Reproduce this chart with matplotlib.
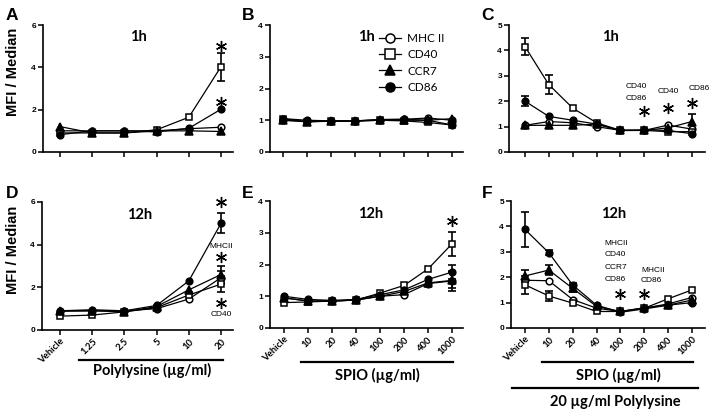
import matplotlib
matplotlib.use("Agg")
import matplotlib.pyplot as plt
from matplotlib.lines import Line2D
import matplotlib.transforms as mtrans
import numpy as np

# ---------------- data ----------------
poly_ticks = ["Vehicle", "1.25", "2.5", "5", "10", "20"]
spio_ticks = ["Vehicle", "10", "20", "40", "100", "200", "400", "1000"]
series = ["MHC II", "CD40", "CCR7", "CD86"]

# Panel A: 1h, polylysine
A_mhc = [1.0, 1.0, 1.0, 1.0, 1.1, 1.17]
A_cd40 = [0.9, 0.9, 0.9, 1.05, 1.64, 4.03]
A_ccr7 = [1.2, 0.9, 0.9, 1.0, 1.0, 0.97]
A_cd86 = [0.82, 1.0, 1.0, 0.95, 1.12, 2.02]
A_cd40_err = [0, 0, 0, 0, 0, 0.66]

# Panel B: 1h, SPIO
B_mhc = [1.0, 0.97, 0.97, 0.98, 1.02, 1.03, 1.07, 1.0]
B_cd40 = [1.05, 0.95, 0.98, 0.98, 1.0, 0.98, 0.93, 0.85]
B_ccr7 = [1.0, 0.95, 0.97, 0.97, 1.0, 1.0, 1.0, 1.05]
B_cd86 = [1.05, 1.0, 0.98, 0.98, 1.02, 1.03, 1.0, 0.85]

# Panel C: 1h, 20 ug/ml polylysine + SPIO
C_mhc = [1.05, 1.2, 1.15, 1.0, 0.85, 0.85, 1.06, 0.9]
C_cd40 = [4.15, 2.65, 1.73, 1.15, 0.85, 0.85, 0.8, 0.8]
C_ccr7 = [1.05, 1.05, 1.05, 1.1, 0.85, 0.85, 0.95, 1.2]
C_cd86 = [2.0, 1.4, 1.25, 1.1, 0.85, 0.87, 0.85, 0.72]
C_cd40_err = [0.35, 0.38, 0, 0, 0, 0, 0, 0]
C_cd86_err = [0.2, 0, 0, 0, 0, 0, 0, 0]
C_ccr7_err = [0, 0, 0, 0, 0, 0, 0, 0.3]

# Panel D: 12h, polylysine
D_mhc = [0.9, 0.95, 0.9, 1.0, 1.45, 2.45]
D_cd40 = [0.65, 0.7, 0.85, 1.05, 1.64, 2.15]
D_ccr7 = [0.88, 0.9, 0.85, 1.1, 1.88, 2.6]
D_cd86 = [0.9, 0.9, 0.9, 1.15, 2.3, 5.0]
D_mhc_err = [0, 0, 0, 0, 0, 0.3]
D_cd40_err = [0, 0, 0, 0, 0, 0.38]
D_ccr7_err = [0, 0, 0, 0, 0, 0.4]
D_cd86_err = [0, 0, 0, 0, 0, 0.47]

# Panel E: 12h, SPIO
E_mhc = [0.95, 0.85, 0.85, 0.88, 1.0, 1.05, 1.4, 1.48]
E_cd40 = [0.8, 0.82, 0.85, 0.88, 1.1, 1.34, 1.86, 2.65]
E_ccr7 = [0.95, 0.85, 0.85, 0.88, 1.0, 1.15, 1.42, 1.5]
E_cd86 = [1.0, 0.9, 0.87, 0.9, 1.05, 1.2, 1.53, 1.76]
E_mhc_err = [0, 0, 0, 0, 0, 0, 0, 0.3]
E_cd40_err = [0, 0, 0, 0, 0, 0, 0, 0.38]
E_ccr7_err = [0, 0, 0, 0, 0, 0, 0, 0.25]
E_cd86_err = [0, 0, 0, 0, 0, 0, 0, 0.22]

# Panel F: 12h, 20 ug/ml polylysine + SPIO
F_mhc = [1.88, 1.86, 1.12, 0.78, 0.65, 0.78, 0.95, 1.2]
F_cd40 = [1.7, 1.26, 0.98, 0.65, 0.65, 0.78, 1.15, 1.5]
F_ccr7 = [2.05, 2.28, 1.56, 0.85, 0.65, 0.8, 0.9, 1.1]
F_cd86 = [3.88, 2.96, 1.69, 0.9, 0.62, 0.75, 0.9, 1.0]
F_cd40_err = [0.35, 0.2, 0, 0, 0, 0, 0, 0]
F_ccr7_err = [0.22, 0.2, 0.15, 0, 0, 0, 0, 0]
F_cd86_err = [0.7, 0.1, 0.1, 0, 0, 0, 0, 0]

# significance marks (x index, y)
A_stars = ([5, 5], [5.0, 2.38])
C_stars = ([5, 6, 7], [1.63, 1.72, 1.92])
D_stars = ([5, 5, 5], [6.0, 3.44, 1.25])
E_stars = ([7], [3.37])
F_stars = ([4, 5], [1.32, 1.35])

# ---------------- style ----------------
W, H = 714, 413
fig = plt.figure(figsize=(W / 100, H / 100), dpi=100)

BOLD_FONT = ["Liberation Sans", "DejaVu Sans"]
CAL_FONT = ["Lato", "DejaVu Sans"]
SMALL_FONT = ["Liberation Sans Narrow", "Liberation Sans", "DejaVu Sans"]

styles = {
    "MHC II": dict(marker="o", mfc="white"),
    "CD40": dict(marker="s", mfc="white"),
    "CCR7": dict(marker="^", mfc="black"),
    "CD86": dict(marker="o", mfc="black"),
}


def make_ax(left, top, right, bottom, ntick, first_px, last_px, ymax, yticks):
    ax = fig.add_axes([left / W, 1 - bottom / H, (right - left) / W, (bottom - top) / H])
    per = (last_px - first_px) / (ntick - 1)
    ax.set_xlim(-(first_px - left) / per, (ntick - 1) + (right - last_px) / per)
    ax.set_ylim(0, ymax)
    ax.set_yticks(yticks)
    ax.set_xticks(range(ntick))
    for s in ["top", "right"]:
        ax.spines[s].set_visible(False)
    for s in ["left", "bottom"]:
        ax.spines[s].set_linewidth(1.2)
    ax.tick_params(direction="out", length=3.5, width=1.1, labelsize=6, pad=1.5)
    for lab in ax.get_yticklabels():
        lab.set_fontweight("bold")
        lab.set_family(BOLD_FONT)
    ax.patch.set_alpha(0)
    return ax


def draw(ax, vals, errs):
    for name in ["MHC II", "CD40", "CCR7", "CD86"]:
        y = vals[name]
        x = np.arange(len(y))
        st = styles[name]
        ms = 5.2 if st["marker"] == "^" else 4.8
        ax.plot(x, y, color="black", lw=0.9, marker=st["marker"], ms=ms,
                mfc=st["mfc"], mec="black", mew=1.1, zorder=3, clip_on=False)
        if name in errs:
            e = np.asarray(errs[name], dtype=float)
            m = e > 0
            ax.errorbar(x[m], np.asarray(y)[m], yerr=e[m], fmt="none", ecolor="black",
                        elinewidth=1.2, capsize=3.2, capthick=1.2, zorder=2, clip_on=False)


def stars(ax, xs, ys):
    ax.plot(xs, ys, linestyle="none", marker=(6, 2, 0), ms=8, mew=1.0,
            color="black", clip_on=False, zorder=4)


def xlabels(ax, labels):
    ax.set_xticklabels(labels, rotation=45, ha="right", rotation_mode="anchor",
                       fontsize=6.8, fontweight="bold", family=CAL_FONT)


def title(ax, txt, xf, yf):
    ax.text(xf, yf, txt, transform=ax.transAxes, ha="center", va="center",
            fontsize=10.5, fontweight="bold", family=CAL_FONT)


def small(ax, x, y, txt):
    ax.text(x, y, txt, ha="center", va="center", fontsize=6, family=SMALL_FONT,
            clip_on=False)


def underline(ax, x0, x1, yf):
    tr = mtrans.blended_transform_factory(ax.transData, ax.transAxes)
    ax.plot([x0, x1], [yf, yf], color="black", lw=1.6, transform=tr, clip_on=False)


def under_text(ax, x, yf, txt):
    tr = mtrans.blended_transform_factory(ax.transData, ax.transAxes)
    ax.text(x, yf, txt, transform=tr, ha="center", va="center", fontsize=10.5,
            fontweight="bold", family=CAL_FONT)


# Panel A
axA = make_ax(43, 25, 233, 152, 6, 60, 221, 6, [0, 2, 4, 6])
draw(axA, {"MHC II": A_mhc, "CD40": A_cd40, "CCR7": A_ccr7, "CD86": A_cd86},
     {"CD40": A_cd40_err})
axA.set_xticklabels([])
title(axA, "1h", 0.5, 0.905)
stars(axA, *A_stars)

# Panel B
axB = make_ax(270, 25, 463, 152, 8, 283, 452, 4, [0, 1, 2, 3, 4])
draw(axB, {"MHC II": B_mhc, "CD40": B_cd40, "CCR7": B_ccr7, "CD86": B_cd86}, {})
axB.set_xticklabels([])
title(axB, "1h", 0.5, 0.905)

# Panel C
axC = make_ax(509, 25, 705, 152, 8, 525, 692, 5, [0, 1, 2, 3, 4, 5])
draw(axC, {"MHC II": C_mhc, "CD40": C_cd40, "CCR7": C_ccr7, "CD86": C_cd86},
     {"CD40": C_cd40_err, "CD86": C_cd86_err, "CCR7": C_ccr7_err})
axC.set_xticklabels([])
title(axC, "1h", 0.515, 0.905)
stars(axC, *C_stars)
small(axC, 4.68, 2.57, "CD40")
small(axC, 4.68, 2.11, "CD86")
small(axC, 6.0, 2.37, "CD40")
small(axC, 7.3, 2.5, "CD86")

# Panel D
axD = make_ax(42, 202, 233, 330, 6, 60, 221, 6, [0, 2, 4, 6])
draw(axD, {"MHC II": D_mhc, "CD40": D_cd40, "CCR7": D_ccr7, "CD86": D_cd86},
     {"MHC II": D_mhc_err, "CD40": D_cd40_err, "CCR7": D_ccr7_err, "CD86": D_cd86_err})
xlabels(axD, poly_ticks)
title(axD, "12h", 0.51, 0.9)
stars(axD, *D_stars)
small(axD, 5, 3.92, "MHCII")
small(axD, 5, 0.72, "CD40")
underline(axD, 0.59, 5.06, -0.234)
under_text(axD, 2.86, -0.32, "Polylysine (µg/ml)")

# Panel E
axE = make_ax(270, 201, 463, 328, 8, 284, 452, 4, [0, 1, 2, 3, 4])
draw(axE, {"MHC II": E_mhc, "CD40": E_cd40, "CCR7": E_ccr7, "CD86": E_cd86},
     {"MHC II": E_mhc_err, "CD40": E_cd40_err, "CCR7": E_ccr7_err, "CD86": E_cd86_err})
xlabels(axE, spio_ticks)
title(axE, "12h", 0.52, 0.9)
stars(axE, *E_stars)
underline(axE, 0.7, 7.04, -0.268)
under_text(axE, 3.9, -0.37, "SPIO (µg/ml)")

# Panel F
axF = make_ax(511, 201, 705, 328, 8, 525, 692, 5, [0, 1, 2, 3, 4, 5])
draw(axF, {"MHC II": F_mhc, "CD40": F_cd40, "CCR7": F_ccr7, "CD86": F_cd86},
     {"CD40": F_cd40_err, "CCR7": F_ccr7_err, "CD86": F_cd86_err})
xlabels(axF, spio_ticks)
title(axF, "12h", 0.53, 0.9)
stars(axF, *F_stars)
for txt, yy in zip(["MHCII", "CD40", "CCR7", "CD86"], [3.31, 2.88, 2.4, 1.9]):
    small(axF, 3.8, yy, txt)
small(axF, 5.38, 2.28, "MHCII")
small(axF, 5.3, 1.88, "CD86")
underline(axF, 0.71, 7.04, -0.268)
under_text(axF, 3.9, -0.37, "SPIO (µg/ml)")
underline(axF, -0.54, 7.25, -0.472)
under_text(axF, 3.77, -0.583, "20 µg/ml Polylysine")

# Legend (in panel B)
handles = []
for name in series:
    st = styles[name]
    handles.append(Line2D([], [], color="black", lw=0.9, marker=st["marker"],
                          ms=6.5 if st["marker"] != "^" else 7, mfc=st["mfc"],
                          mec="black", mew=1.1))
leg = axB.legend(handles, series, loc="upper left", bbox_to_anchor=(373 / W, 1 - 27 / H),
                 bbox_transform=fig.transFigure, frameon=False, handlelength=1.9,
                 handletextpad=0.5, labelspacing=0.45, borderpad=0,
                 prop={"family": CAL_FONT, "size": 8.5})

# y labels and panel letters
for yc in [72, 250]:
    fig.text(13 / W, 1 - yc / H, "MFI / Median", rotation=90, ha="center", va="center",
             fontsize=10.5, fontweight="bold", family=BOLD_FONT)
for letter, (px, py) in zip("ABCDEF", [(12, 15), (248, 15), (487, 15),
                                       (12, 193), (248, 193), (487, 193)]):
    fig.text(px / W, 1 - py / H, letter, ha="center", va="center", fontsize=12.5,
             fontweight="bold", family=BOLD_FONT)

fig.savefig("out.png", dpi=100)
